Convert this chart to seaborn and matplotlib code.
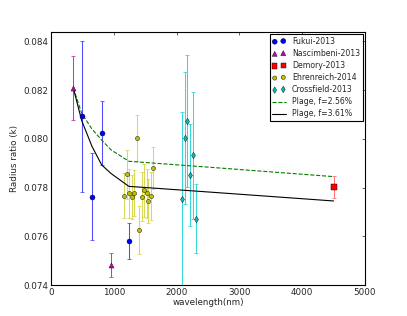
import numpy as np
import pandas as pd
import seaborn as sns
import matplotlib
matplotlib.use('Agg')
from matplotlib import pyplot as plt

# Transit radius ratio measurements
fukui_wl = [489, 653, 807, 1247]
fukui_k = [0.08092, 0.07763, 0.08024, 0.07581]
fukui_err = [0.0031, 0.0018, 0.0013, 0.00074]

nasc_wl = [355, 955]
nasc_k = [0.08209, 0.07482]
nasc_err = [0.0013, 0.0005]

demory_wl = [4500]
demory_k = [0.07802]
demory_err = [0.00045]

ehren_wl = [1167, 1205, 1242, 1290, 1322, 1365, 1401, 1444, 1481, 1524, 1549, 1588, 1629]
ehren_k = [0.07766, 0.07855, 0.07777, 0.07763, 0.07779, 0.08003, 0.07626,
           0.07763, 0.07788, 0.07777, 0.07745, 0.07766, 0.07881]
ehren_err = [0.00092, 0.0010, 0.0010, 0.0009, 0.00095, 0.00093, 0.0010,
             0.0010, 0.0011, 0.0010, 0.0009, 0.0010, 0.00086]

cross_wl = [2091, 2129, 2170, 2213, 2261, 2309]
cross_k = [0.07752, 0.08003, 0.08074, 0.07852, 0.07933, 0.07673]
cross_err = [0.0036, 0.0027, 0.0027, 0.0021, 0.0026, 0.0014]

# Plage models
model_wl = [355, 489, 653, 807, 955, 1240, 2500, 4500]
plage_256 = [0.08209, 0.08105, 0.08040, 0.07995, 0.07955, 0.07908, 0.07884, 0.07845]
plage_361 = [0.08209, 0.08075, 0.07969, 0.07893, 0.07858, 0.07805, 0.07782, 0.07745]

sns.set_style('white')
plt.rcParams['font.family'] = ['DejaVu Sans']
plt.rcParams['font.size'] = 6.3

fig = plt.figure(figsize=(4.07, 3.16), dpi=100)
ax = fig.add_axes([0.1253, 0.0981, 0.7715, 0.8016])

sets = [
    ('Fukui-2013', fukui_wl, fukui_k, fukui_err, (0, 0, 1), 'o', 13, (0.3, 0.3, 1)),
    ('Nascimbeni-2013', nasc_wl, nasc_k, nasc_err, (0.75, 0, 0.75), '^', 13, (0.8, 0.2, 0.8)),
    ('Demory-2013', demory_wl, demory_k, demory_err, (1, 0, 0), 's', 14, (1, 0.45, 0.45)),
    ('Ehrenreich-2014', ehren_wl, ehren_k, ehren_err, (0.75, 0.75, 0), 'o', 9, (0.85, 0.85, 0.35)),
    ('Crossfield-2013', cross_wl, cross_k, cross_err, (0, 0.75, 0.75), 'd', 11, (0.2, 0.85, 0.85)),
]
for label, wl, k, err, col, mk, sz, ecol in sets:
    ax.errorbar(wl, k, yerr=err, fmt='none', ecolor=ecol, elinewidth=0.75,
                capsize=1.5, capthick=0.6, zorder=2)
    sns.scatterplot(x=wl, y=k, ax=ax, color=col, marker=mk, s=sz,
                    edgecolor='k', linewidth=0.3, label=label, zorder=3)

models = pd.DataFrame({'wl': model_wl, 'f256': plage_256, 'f361': plage_361})
sns.lineplot(data=models, x='wl', y='f256', ax=ax, color=(0, 0.5, 0), linestyle='--',
             dashes=(4, 3), linewidth=0.8, label='Plage, f=2.56%', sort=False)
sns.lineplot(data=models, x='wl', y='f361', ax=ax, color='k', linewidth=0.8,
             label='Plage, f=3.61%', sort=False)

ax.set_xlim(0, 5000)
ax.set_ylim(0.074, 0.0844)
ax.set_xticks([0, 1000, 2000, 3000, 4000, 5000])
ax.set_yticks([0.074, 0.076, 0.078, 0.080, 0.082, 0.084])
ax.yaxis.set_major_formatter(matplotlib.ticker.FormatStrFormatter('%.3f'))
ax.tick_params(direction='in', length=2.5, width=0.5, top=True, right=True,
               labelsize=6.3, pad=2)
for sp in ax.spines.values():
    sp.set_color('k')
    sp.set_linewidth(0.8)
ax.set_xlabel('wavelength(nm)', fontsize=6.3, labelpad=1)
ax.set_ylabel('Radius ratio (k)', fontsize=6.3, labelpad=3)

leg = ax.legend(loc='upper right', scatterpoints=2, fontsize=5.6, fancybox=False,
                edgecolor='k', framealpha=1, borderaxespad=0.3, handlelength=1.7,
                handletextpad=0.8, labelspacing=0.4, borderpad=0.35)
leg.get_frame().set_linewidth(0.8)

fig.savefig('out.png', dpi=100)
